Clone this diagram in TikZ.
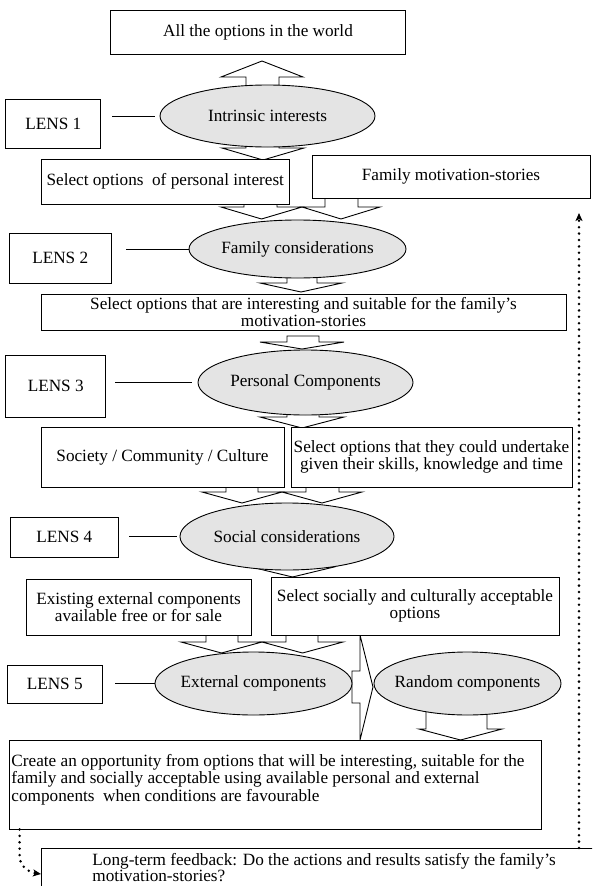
\documentclass[tikz,border=0pt]{standalone}
\usepackage{fontspec}
\setmainfont{Liberation Serif}
\usetikzlibrary{shapes.geometric,arrows.meta,calc}
\definecolor{ellgray}{RGB}{228,228,228}
\newcommand\blockdn[7]{%
  \draw[blockarrow] (#1,#3) -- (#1,#4) -- (#5,#4) -- ({(#5+#6)/2},#7) -- (#6,#4) -- (#2,#4) -- (#2,#3) -- cycle;}
\begin{document}
\begin{tikzpicture}[x=1pt,y=-1pt,
  font=\fontsize{17.2}{17.4}\selectfont,
  line width=0.9pt,
  box/.style={draw, fill=white, inner sep=0pt, align=center},
  ell/.style={draw, ellipse, fill=ellgray, inner sep=0pt},
  blockarrow/.style={draw, fill=white, line join=miter},
  dotline/.style={line width=2.8pt, line cap=round, dash pattern=on 0pt off 6.4pt},
  tip/.style={-{Stealth[length=8pt,width=7pt,inset=2pt]}},
]
\clip (0,0) rectangle (592,886);
\fill[white] (0,0) rectangle (592,886);

% block arrows (drawn beneath the nodes)
\blockdn{246}{279}{92}{77}{221}{303}{61}
\blockdn{246}{279}{140}{148}{222}{304}{160}
\blockdn{244}{277}{202}{207}{221}{302}{219}
\blockdn{325}{358}{196}{207}{302}{380}{219}
\blockdn{287}{317}{272}{283}{260}{342}{292}
\blockdn{287}{319}{336}{342}{260}{344}{349}
\blockdn{287}{319}{408}{417}{260}{344}{428}
\blockdn{226}{258}{485}{492}{202}{282}{503}
\blockdn{306}{339}{485}{492}{282}{362}{503}
\blockdn{277}{309}{560}{567}{251}{334}{577}
\blockdn{206}{238}{633}{642}{181}{262}{653}
\blockdn{286}{318}{633}{642}{262}{343}{653}
\blockdn{426}{487}{705}{729}{419}{502}{740}
\draw[blockarrow] (352,671) -- (360,671) -- (360,635) -- (373,687) -- (360,740) -- (360,703) -- (352,703) -- cycle;

% nodes
\node[box, minimum width=295pt, minimum height=43.6pt] (world) at (258,32.5) {All the options in the world};

\node[ell, minimum width=215pt, minimum height=62pt, label=center:Intrinsic interests] (e1) at (267.5,116) {};
\node[box, minimum width=95pt, minimum height=49pt] (l1) at (53.4,123.5) {LENS 1};

\node[box, minimum width=247.5pt, minimum height=45pt] (sel1) at (165.25,181.5) {Select options~ of personal interest};
\node[box, minimum width=278pt, minimum height=43pt] (fam) at (451,176.5) {Family motivation-stories};

\node[ell, minimum width=217pt, minimum height=58pt, label=center:Family considerations] (e2) at (297.5,249) {};
\node[box, minimum width=101.6pt, minimum height=50pt] (l2) at (60.2,258) {LENS 2};

\node[box, minimum width=525pt, minimum height=36pt] (sel2) at (303.5,312) {Select options that are interesting and suitable for the family’s\\motivation-stories};

\node[ell, minimum width=215pt, minimum height=65pt, label=center:Personal Components] (e3) at (305.5,382.5) {};
\node[box, minimum width=100pt, minimum height=62pt] (l3) at (55.7,386) {LENS 3};

\node[box, minimum width=243pt, minimum height=60pt] (soc) at (162.5,457) {Society / Community / Culture};
\node[box, minimum width=281pt, minimum height=60pt] (sel3) at (431.5,457) {Select options that they could undertake\\given their skills, knowledge and time};

\node[ell, minimum width=214pt, minimum height=67pt, label=center:Social considerations] (e4) at (287,536.5) {};
\node[box, minimum width=107.4pt, minimum height=40pt] (l4) at (64.3,537) {LENS 4};

\node[box, minimum width=225pt, minimum height=56pt] (ext) at (138.5,607) {Existing external components\\available free or for sale};
\node[box, minimum width=288pt, minimum height=58pt] (sel4) at (415,606) {Select socially and culturally acceptable\\options};

\node[ell, minimum width=197pt, minimum height=63pt, label=center:External components] (e5) at (253.5,683.5) {};
\node[ell, minimum width=187pt, minimum height=63pt, label=center:Random components] (e6) at (467.5,683.5) {};
\node[box, minimum width=94.5pt, minimum height=38pt] (l5) at (54.75,684) {LENS 5};

\node[box, minimum width=532pt, minimum height=89pt] (create) at (275.45,784.5) {};
\node[anchor=north west, align=left, inner sep=0pt] (createtxt) at (11,754) {Create an opportunity from options that will be interesting, suitable for the\\family and socially acceptable using available personal and external\\components~ when conditions are favourable};

\node[box, anchor=north west, minimum width=570pt, minimum height=60pt] (fb) at (41,848) {};
\node[anchor=north west, align=left, inner sep=0pt, font=\fontsize{17.2}{16.4}\selectfont] (fbtxt) at (92,853) {Long-term feedback: Do the actions and results satisfy the family’s\\motivation-stories?};

% lens connectors
\draw ($(l1.east |- e1.west)+(11,0)$) -- ($(e1.west)+(-5,0)$);
\draw ($(l2.east |- e2.west)+(15,0)$) -- (e2.west);
\draw ($(l3.east |- e3.west)+(9,0)$) -- ($(e3.west)+(-6,0)$);
\draw ($(l4.east |- e4.west)+(11,0)$) -- ($(e4.west)+(-3,0)$);
\draw ($(l5.east |- e5.west)+(13,0)$) -- (e5.west);

% dotted feedback connectors
\coordinate (cL) at ($(create.south west)+(10.6,0)$);
\coordinate (fbL) at ($(fb.north west)+(0,26)$);
\draw[dotline, tip] (cL) -- ($(cL)+(0,27)$) .. controls ($(cL)+(0,37)$) and ($(cL)+(10,43)$) .. (fbL);
\coordinate (fbR) at (579,848);
\coordinate (famA) at (579,213);
\draw[dotline, tip] (fbR) -- (famA);
\end{tikzpicture}
\end{document}
